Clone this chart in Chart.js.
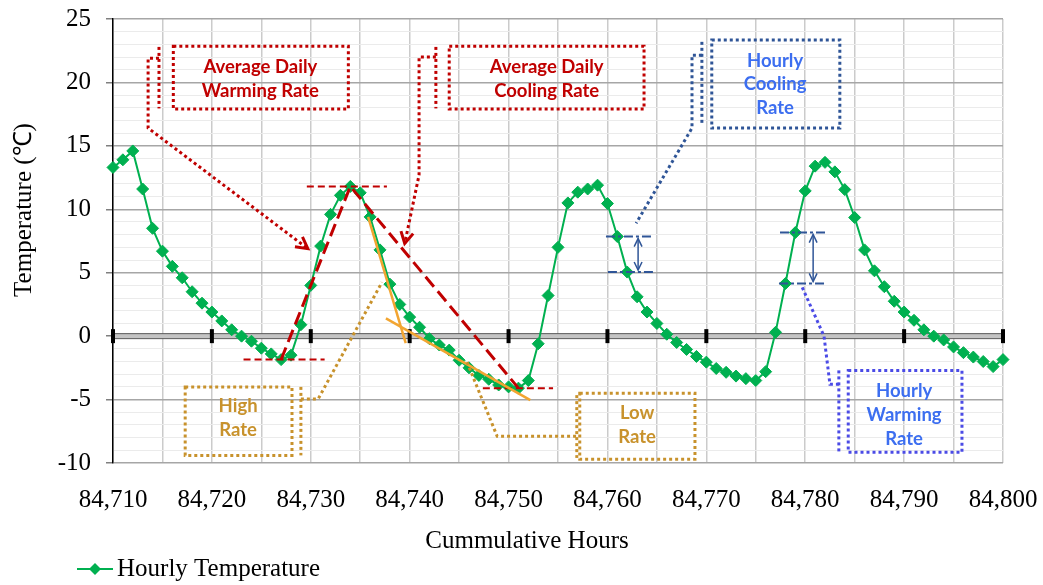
<!DOCTYPE html>
<html>
<head>
<meta charset="utf-8">
<script src="https://cdn.jsdelivr.net/npm/chart.js@4.4.1/dist/chart.umd.min.js"></script>
<style>
  html, body { margin: 0; padding: 0; background: #ffffff; }
  #c { display: block; }
</style>
</head>
<body>
<canvas id="c" width="1043" height="585"></canvas>
<script>
// ---- Data ---------------------------------------------------------------
const FIRST_HOUR = 84710;
const seriesName = 'Hourly Temperature';
const temperatures = [
  13.3, 13.9, 14.6, 11.6, 8.5, 6.7, 5.5, 4.6, 3.5, 2.6,        // 84710-84719
  1.9, 1.2, 0.5, 0.0, -0.4, -0.95, -1.4, -1.85, -1.5, 0.9,      // 84720-84729
  4.0, 7.1, 9.6, 11.1, 11.8, 11.3, 9.4, 6.8, 4.1, 2.5,          // 84730-84739
  1.5, 0.7, -0.2, -0.7, -1.1, -1.9, -2.5, -3.1, -3.4, -3.85,    // 84740-84749
  -4.0, -4.1, -3.5, -0.6, 3.2, 7.0, 10.5, 11.35, 11.6, 11.9,    // 84750-84759
  10.45, 7.85, 5.05, 3.1, 1.9, 1.0, 0.15, -0.5, -1.05, -1.6,    // 84760-84769
  -2.05, -2.55, -2.85, -3.15, -3.35, -3.5, -2.8, 0.3, 4.15, 8.17, // 84770-84779
  11.45, 13.4, 13.7, 12.95, 11.55, 9.35, 6.8, 5.15, 3.9, 2.75,  // 84780-84789
  1.9, 1.25, 0.5, 0.0, -0.3, -0.85, -1.3, -1.65, -2.0, -2.4,    // 84790-84799
  -1.85                                                         // 84800
];
const hours = temperatures.map((_, i) => FIRST_HOUR + i);
const xTickHours = [84710, 84720, 84730, 84740, 84750, 84760, 84770, 84780, 84790, 84800];
const yTickValues = [-10, -5, 0, 5, 10, 15, 20, 25];

// hours used by the rate annotations
const warmStartHour = 84727, peakHour = 84734, coolEndHour = 84751;
const hourlyCoolHours = [84761, 84762];
const hourlyWarmHours = [84778, 84779];
const tempAt = h => temperatures[h - FIRST_HOUR];

// ---- Annotation layout (in axis units: hour, °C) -------------------------
const RED = '#C00000', GOLD = '#C8922C', NAVY = '#2F5597', VIOLET = '#4B4BE6', SKY = '#3C6EF0';
const ORANGE = '#F2A531';

const callouts = [
  { text: ['Average Daily', 'Warming Rate'], textColor: RED, lineColor: RED,
    box: [84716.1, 22.85, 84733.8, 17.9], bar: [84714.65, 22.8, 17.95],
    leader: [[84714.65, 21.9], [84713.55, 21.9], [84713.55, 16.4], [84729.7, 6.9]], arrow: true,
    textX: 84724.9, textY: [21.25, 19.3] },
  { text: ['Average Daily', 'Cooling Rate'], textColor: RED, lineColor: RED,
    box: [84744.0, 22.85, 84763.7, 17.9], bar: [84742.65, 22.8, 17.95],
    leader: [[84742.65, 22.0], [84740.95, 22.0], [84740.95, 12.7], [84739.5, 7.3]], arrow: true,
    textX: 84753.85, textY: [21.25, 19.35] },
  { text: ['Hourly', 'Cooling', 'Rate'], textColor: SKY, lineColor: NAVY,
    box: [84770.55, 23.35, 84783.5, 16.4], bar: [84769.55, 23.2, 16.7],
    leader: [[84769.55, 22.15], [84768.55, 22.15], [84768.55, 16.4], [84762.9, 8.9]], arrow: false,
    textX: 84776.95, textY: [21.7, 19.85, 17.95] },
  { text: ['Hourly', 'Warming', 'Rate'], textColor: SKY, lineColor: VIOLET,
    box: [84784.35, -2.7, 84795.85, -9.15], bar: [84783.4, -2.7, -9.15],
    leader: [[84779.7, 3.85], [84781.9, 0.0], [84782.5, -3.8], [84783.4, -3.8]], arrow: false,
    textX: 84790.0, textY: [-4.3, -6.2, -8.1] },
  { text: ['High', 'Rate'], textColor: GOLD, lineColor: GOLD,
    box: [84717.3, -4.0, 84728.1, -9.4], bar: [84729.0, -4.0, -9.4],
    leader: [[84729.0, -4.95], [84730.75, -4.95], [84737.2, 4.25]], arrow: false,
    textX: 84722.65, textY: [-5.5, -7.4] },
  { text: ['Low', 'Rate'], textColor: GOLD, lineColor: GOLD,
    box: [84757.2, -4.5, 84768.85, -9.7], bar: [84756.9, -4.65, -9.6],
    leader: [[84745.8, -2.05], [84748.85, -7.9], [84756.9, -7.9]], arrow: false,
    textX: 84763.0, textY: [-6.05, -7.95] }
];

const rateLines = [
  [84735.8, 9.4, 84739.6, -0.55],    // high cooling rate
  [84737.6, 1.4, 84752.2, -5.05]     // low cooling rate
];

// ---- Drawing helpers ----------------------------------------------------
function openHead(ctx, fx, fy, tx, ty, len, spread) {
  const a = Math.atan2(ty - fy, tx - fx);
  ctx.beginPath();
  ctx.moveTo(tx - len * Math.cos(a - spread), ty - len * Math.sin(a - spread));
  ctx.lineTo(tx, ty);
  ctx.lineTo(tx - len * Math.cos(a + spread), ty - len * Math.sin(a + spread));
  ctx.stroke();
}

function polyline(ctx, pts) {
  ctx.beginPath();
  pts.forEach((p, i) => (i ? ctx.lineTo(p[0], p[1]) : ctx.moveTo(p[0], p[1])));
  ctx.stroke();
}

// gray zero axis with black cross marks, drawn beneath the series
const zeroAxisPlugin = {
  id: 'zeroAxis',
  beforeDatasetsDraw(chart) {
    const { ctx, chartArea: a, scales: { x, y } } = chart;
    const y0 = y.getPixelForValue(0);
    ctx.save();
    ctx.fillStyle = '#C4C4C4';
    ctx.fillRect(a.left, y0 - 2.5, a.right - a.left, 5);
    ctx.strokeStyle = '#5A5A5A';
    ctx.lineWidth = 1;
    ctx.beginPath();
    ctx.moveTo(a.left, y0 - 2.5); ctx.lineTo(a.right, y0 - 2.5);
    ctx.moveTo(a.left, y0 + 2.5); ctx.lineTo(a.right, y0 + 2.5);
    ctx.stroke();
    ctx.fillStyle = '#000000';
    xTickHours.forEach(h => {
      const px = x.getPixelForValue(h);
      ctx.fillRect(px - 2, y0 - 7, 4, 14);
    });
    ctx.restore();
  }
};

// rate lines, callouts, titles and legend
const overlayPlugin = {
  id: 'overlay',
  afterDatasetsDraw(chart) {
    const { ctx, scales: { x, y } } = chart;
    const P = (h, v) => [x.getPixelForValue(h), y.getPixelForValue(v)];
    ctx.save();
    ctx.lineCap = 'butt';

    // average daily warming / cooling trend lines
    const pMin1 = P(warmStartHour, tempAt(warmStartHour));
    const pPeak = P(peakHour, tempAt(peakHour));
    const pMin2 = P(coolEndHour, tempAt(coolEndHour));
    ctx.strokeStyle = RED;
    ctx.lineWidth = 3;
    ctx.setLineDash([13, 6]);
    polyline(ctx, [pMin1, pPeak, pMin2]);
    ctx.lineWidth = 2;
    ctx.setLineDash([7, 4]);
    [[peakHour - 4.4, peakHour + 3.7, tempAt(peakHour)],
     [warmStartHour - 3.8, warmStartHour + 4.4, tempAt(warmStartHour)],
     [coolEndHour - 3.6, coolEndHour + 3.5, tempAt(coolEndHour)]].forEach(([h1, h2, v]) => {
      polyline(ctx, [P(h1, v), P(h2, v)]);
    });

    // high / low hourly rate lines
    ctx.setLineDash([]);
    ctx.strokeStyle = ORANGE;
    ctx.lineWidth = 2.5;
    rateLines.forEach(r => polyline(ctx, [P(r[0], r[1]), P(r[2], r[3])]));

    // hourly change markers
    function hourlyMarker(hPair, topSpan, botSpan, arrowHour) {
      const vBot = tempAt(hPair[0]), vTop = tempAt(hPair[1]);
      const hi = Math.max(vBot, vTop), lo = Math.min(vBot, vTop);
      ctx.strokeStyle = NAVY;
      ctx.lineWidth = 2;
      ctx.setLineDash([9, 3, 3, 3]);
      polyline(ctx, [P(topSpan[0], hi), P(topSpan[1], hi)]);
      polyline(ctx, [P(botSpan[0], lo), P(botSpan[1], lo)]);
      ctx.setLineDash([]);
      ctx.lineWidth = 1.5;
      const a = P(arrowHour, hi), b = P(arrowHour, lo);
      a[1] += 2; b[1] -= 2;
      polyline(ctx, [a, b]);
      openHead(ctx, b[0], b[1], a[0], a[1], 9, 0.45);
      openHead(ctx, a[0], a[1], b[0], b[1], 9, 0.45);
    }
    hourlyMarker(hourlyCoolHours, [84759.85, 84764.6], [84760.05, 84764.9], 84763.1);
    hourlyMarker(hourlyWarmHours, [84777.45, 84782.2], [84777.35, 84782.2], 84780.8);

    // callouts
    callouts.forEach(c => {
      ctx.strokeStyle = c.lineColor;
      ctx.lineWidth = 3;
      ctx.setLineDash([3, 3]);
      const b1 = P(c.box[0], c.box[1]), b2 = P(c.box[2], c.box[3]);
      ctx.strokeRect(b1[0], b1[1], b2[0] - b1[0], b2[1] - b1[1]);
      polyline(ctx, [P(c.bar[0], c.bar[1]), P(c.bar[0], c.bar[2])]);
      const pts = c.leader.map(p => P(p[0], p[1]));
      polyline(ctx, pts);
      if (c.arrow) {
        ctx.setLineDash([]);
        ctx.lineWidth = 3;
        const n = pts.length;
        openHead(ctx, pts[n - 2][0], pts[n - 2][1], pts[n - 1][0], pts[n - 1][1], 13, 0.5);
      }
      ctx.setLineDash([]);
      ctx.fillStyle = c.textColor;
      ctx.font = 'bold 18.5px Lato, "Open Sans", sans-serif';
      ctx.textAlign = 'center';
      ctx.textBaseline = 'middle';
      const tx = x.getPixelForValue(c.textX);
      c.text.forEach((t, i) => ctx.fillText(t, tx, y.getPixelForValue(c.textY[i])));
    });

    // axis titles
    ctx.fillStyle = '#000000';
    ctx.font = '25px "Liberation Serif", "Times New Roman", serif';
    ctx.textAlign = 'center';
    ctx.textBaseline = 'middle';
    ctx.fillText('Cummulative Hours', 527, 541);
    ctx.save();
    ctx.translate(24, 210);
    ctx.rotate(-Math.PI / 2);
    ctx.fillText('Temperature (\u2103)', 0, 0);
    ctx.restore();

    // legend
    const ly = 569;
    ctx.strokeStyle = '#00B050';
    ctx.lineWidth = 2;
    polyline(ctx, [[77, ly], [113, ly]]);
    ctx.fillStyle = '#00B050';
    ctx.beginPath();
    ctx.moveTo(89, ly); ctx.lineTo(95, ly - 6); ctx.lineTo(101, ly); ctx.lineTo(95, ly + 6);
    ctx.closePath(); ctx.fill();
    ctx.fillStyle = '#000000';
    ctx.textAlign = 'left';
    ctx.fillText(seriesName, 117, ly);
    ctx.restore();
  }
};

const serif = { family: '"Liberation Serif", "Times New Roman", serif', size: 25 };

new Chart(document.getElementById('c'), {
  type: 'line',
  data: {
    datasets: [{
      label: seriesName,
      data: hours.map((h, i) => ({ x: h, y: temperatures[i] })),
      borderColor: '#00B050',
      backgroundColor: '#00B050',
      borderWidth: 2,
      pointStyle: 'rectRot',
      pointRadius: 6,
      pointBorderWidth: 1,
      pointBorderColor: '#00B050',
      pointBackgroundColor: '#00B050',
      tension: 0,
      clip: false
    }]
  },
  options: {
    responsive: false,
    animation: false,
    devicePixelRatio: 1,
    layout: { padding: { top: 19, right: 40, left: 0, bottom: 0 } },
    plugins: { legend: { display: false }, tooltip: { enabled: false } },
    scales: {
      x: {
        type: 'linear',
        min: xTickHours[0],
        max: xTickHours[xTickHours.length - 1],
        afterFit(s) { s.height = 122; s.paddingLeft = 0; s.paddingRight = 0; },
        border: { display: false },
        grid: { color: '#CBCBCB', lineWidth: 1.5, drawTicks: false },
        ticks: {
          stepSize: 5, autoSkip: false, maxRotation: 0, padding: 22,
          color: '#000000', font: serif,
          callback: v => (xTickHours.includes(v) ? v.toLocaleString('en-US') : '')
        }
      },
      y: {
        min: yTickValues[0],
        max: yTickValues[yTickValues.length - 1],
        afterFit(s) { s.width = 113; s.paddingTop = 0; s.paddingBottom = 0; },
        border: { display: true, color: '#000000', width: 1.5 },
        grid: {
          color: c => (yTickValues.includes(c.tick.value) ? '#A6A6A6' : '#EBEBEB'),
          lineWidth: c => (yTickValues.includes(c.tick.value) ? 1.5 : 1),
          tickColor: c => (yTickValues.includes(c.tick.value) ? '#7F7F7F' : 'rgba(0,0,0,0)'),
          tickLength: 7
        },
        ticks: {
          stepSize: 1, autoSkip: false, padding: 15,
          color: '#000000', font: serif,
          callback: v => (yTickValues.includes(v) ? String(v) : '')
        }
      }
    }
  },
  plugins: [zeroAxisPlugin, overlayPlugin]
});
</script>
</body>
</html>
